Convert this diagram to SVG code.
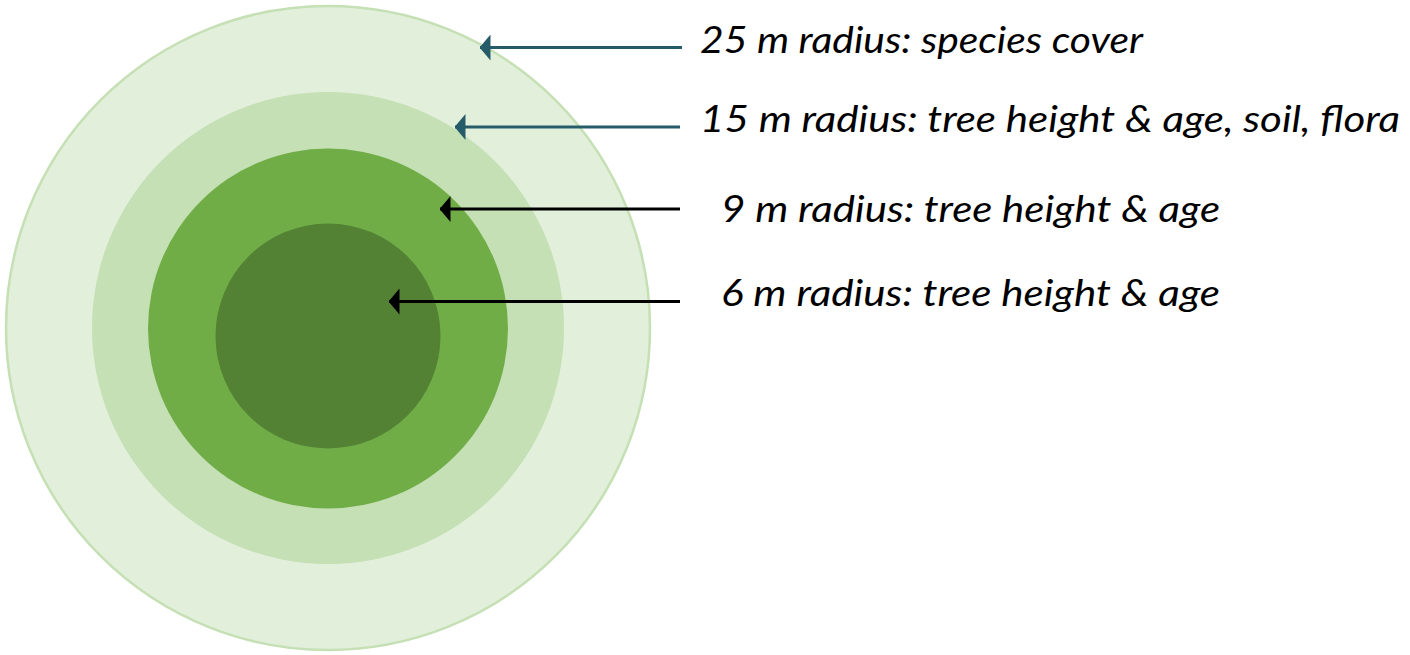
<svg xmlns="http://www.w3.org/2000/svg" width="1410" height="655" viewBox="0 0 1410 655">
  <style>
    .label { font-family: Lato, "Open Sans", "Liberation Sans", sans-serif; font-style: italic; font-size: 36px; fill: #000; }
    .lead-teal { stroke: #265c6a; stroke-width: 3; fill: none; marker-start: url(#head-teal); }
    .lead-black { stroke: #000; stroke-width: 3; fill: none; marker-start: url(#head-black); }
  </style>
  <defs>
    <marker id="head-teal" markerUnits="userSpaceOnUse" markerWidth="11" markerHeight="26" viewBox="0 0 11 26" refX="10.5" refY="13" orient="auto-start-reverse">
      <path d="M0,0 L11,13 L0,26 Z" fill="#265c6a"/>
    </marker>
    <marker id="head-black" markerUnits="userSpaceOnUse" markerWidth="11" markerHeight="26" viewBox="0 0 11 26" refX="10.5" refY="13" orient="auto-start-reverse">
      <path d="M0,0 L11,13 L0,26 Z" fill="#000"/>
    </marker>
  </defs>

  <!-- concentric plot rings -->
  <g id="ring-25m">
    <circle cx="328" cy="328" r="322" fill="#e2efda" stroke="#c5e0b4" stroke-width="2.5"/>
  </g>
  <g id="ring-15m">
    <circle cx="328" cy="328" r="236" fill="#c5e0b4"/>
  </g>
  <g id="ring-9m">
    <circle cx="328" cy="328.5" r="180" fill="#70ad47"/>
  </g>
  <g id="ring-6m">
    <circle cx="328" cy="336" r="112.5" fill="#548235"/>
  </g>

  <!-- leader arrows -->
  <g id="connectors">
    <path class="lead-teal" d="M480,47.5 H682"/>
    <path class="lead-teal" d="M455,127 H680"/>
    <path class="lead-black" d="M440,209 H680"/>
    <path class="lead-black" d="M389,301.5 H680"/>
  </g>

  <!-- labels -->
  <g id="label-25m">
    <text class="label" x="700" y="52.5" textLength="443" lengthAdjust="spacingAndGlyphs">25 m radius: species cover</text>
  </g>
  <g id="label-15m">
    <text class="label" x="700" y="132" textLength="700" lengthAdjust="spacingAndGlyphs">15 m radius: tree height &amp; age, soil, flora</text>
  </g>
  <g id="label-9m">
    <text class="label" x="721" y="221.5" textLength="499" lengthAdjust="spacingAndGlyphs">9 m radius: tree height &amp; age</text>
  </g>
  <g id="label-6m">
    <text class="label" x="721" y="305.5" textLength="499" lengthAdjust="spacingAndGlyphs">6 m radius: tree height &amp; age</text>
  </g>
</svg>
